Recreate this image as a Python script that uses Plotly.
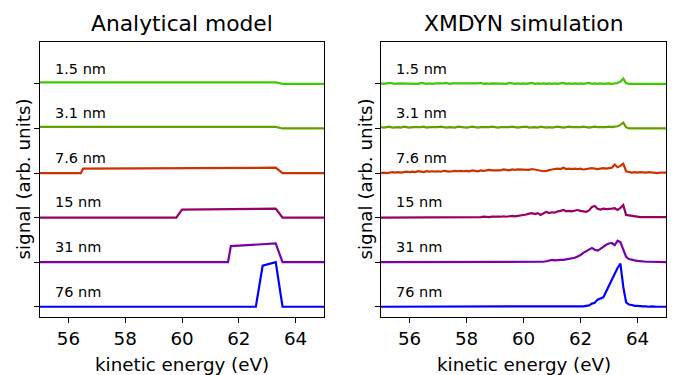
import plotly.graph_objects as go

W, H = 681, 375
PAGE_OFF = 8  # default page margin of the browser
FW, FH = W - PAGE_OFF, H - PAGE_OFF
FONT = "DejaVu Sans"

LABELS = ["76 nm", "31 nm", "15 nm", "7.6 nm", "3.1 nm", "1.5 nm"]
COLORS = ["#0000ff", "#7a00a8", "#990066", "#cc3300", "#66a000", "#40c800"]
OFFSETS = [0, 1, 2, 3, 4, 5]

# Analytical model: breakpoints (energy, signal)
ANA_X = [
    [55.0, 62.6, 62.84, 63.3, 63.54, 65.0],
    [55.0, 61.62, 61.72, 63.3, 63.54, 65.0],
    [55.0, 59.8, 60.0, 63.3, 63.54, 65.0],
    [55.0, 56.44, 56.52, 63.3, 63.54, 65.0],
    [55.0, 63.3, 63.54, 65.0],
    [55.0, 63.3, 63.54, 65.0],
]
ANA_Y = [
    [0, 0, 0.92, 1.0, 0, 0],
    [0, 0, 0.36, 0.42, 0, 0],
    [0, 0, 0.18, 0.2, 0, 0],
    [0, 0, 0.1, 0.12, 0, 0],
    [0.035, 0.035, 0, 0],
    [0.035, 0.035, 0, 0],
]

# XMDYN simulation: energy grid 55.0 .. 65.0 eV, step 0.1
SIM_E = [round(55 + 0.1 * i, 1) for i in range(101)]
SIM_76 = [0, 0, 0, 0.01, 0, 0, 0, 0, 0.01, 0,
          0, 0, 0.01, 0, 0, 0, 0, 0, 0, 0.01,
          0, 0, 0, 0, 0.01, 0, 0, 0, 0, 0,
          0, 0.01, 0, 0, 0, 0, 0, 0.01, 0, 0,
          0, 0, 0, 0, 0, 0.01, 0, 0, 0, 0,
          0, 0, 0, 0.01, 0, 0, 0, 0, 0, 0.01,
          0, 0, 0, 0, 0.01, 0, 0, 0.01, 0, 0.01,
          0.01, 0.01, 0.02, 0.03, 0.07, 0.09, 0.16, 0.18, 0.21, 0.34,
          0.48, 0.63, 0.76, 0.87, 0.97, 0.45, 0.1, 0.05, 0.04, 0.02,
          0.02, 0.01, 0.01, 0.01, 0, 0.01, 0, 0, 0, 0, 0]
SIM_31 = [0, 0, 0, 0, 0.01, 0, 0, 0, 0, 0,
          0, 0, 0, 0, 0, 0, 0, 0, 0, 0,
          0, 0, 0, 0, 0, 0, 0, 0, 0, 0,
          0, 0, 0, 0, 0, 0, 0, 0, 0, 0,
          0, 0, 0, 0, 0, 0, 0, 0, 0, 0,
          0, 0, 0, 0, 0, 0.01, 0, 0.01, 0.02, 0.03,
          0.05, 0.04, 0.05, 0.05, 0.05, 0.06, 0.08, 0.09, 0.1, 0.13,
          0.16, 0.21, 0.25, 0.29, 0.32, 0.28, 0.26, 0.3, 0.35, 0.39,
          0.42, 0.43, 0.38, 0.48, 0.45, 0.28, 0.12, 0.07, 0.05, 0.04,
          0.03, 0.02, 0.02, 0.01, 0.01, 0.01, 0.01, 0, 0, 0, 0]
SIM_15 = [0, 0, 0, 0, 0.01, 0, 0, 0, 0, 0,
          0, 0, 0.01, 0, 0, 0, 0, 0.01, 0, 0,
          0, 0.01, 0, 0, 0, 0.01, 0, 0, 0.01, 0,
          0.01, 0, 0.01, 0.01, 0, 0.01, 0.02, 0.01, 0.01, 0.02,
          0.02, 0.01, 0.02, 0.03, 0.02, 0.03, 0.04, 0.03, 0.04, 0.05,
          0.05, 0.07, 0.09, 0.1, 0.08, 0.1, 0.06, 0.09, 0.13, 0.1,
          0.12, 0.11, 0.14, 0.15, 0.17, 0.14, 0.15, 0.14, 0.16, 0.17,
          0.15, 0.14, 0.13, 0.16, 0.24, 0.26, 0.2, 0.18, 0.2, 0.19,
          0.19, 0.2, 0.21, 0.17, 0.22, 0.28, 0.06, 0.05, 0.04, 0.02,
          0.02, 0.01, 0.01, 0.01, 0.01, 0, 0.01, 0.01, 0, 0.01, 0.01]
SIM_7_6 = [0.0, 0.01, 0.0, 0.01, 0.02, 0.01, 0.02, 0.01, 0.02, 0.03,
           0.02, 0.03, 0.02, 0.04, 0.03, 0.02, 0.04, 0.03, 0.04, 0.03,
           0.04, 0.03, 0.05, 0.04, 0.03, 0.04, 0.05, 0.04, 0.05, 0.04,
           0.05, 0.04, 0.06, 0.05, 0.04, 0.06, 0.05, 0.06, 0.07, 0.06,
           0.06, 0.07, 0.06, 0.08, 0.07, 0.06, 0.08, 0.07, 0.08, 0.08,
           0.08, 0.07, 0.07, 0.09, 0.08, 0.07, 0.06, 0.04, 0.05, 0.07,
           0.08, 0.09, 0.1, 0.09, 0.12, 0.09, 0.1, 0.09, 0.1, 0.09,
           0.1, 0.08, 0.09, 0.1, 0.11, 0.1, 0.09, 0.1, 0.11, 0.1,
           0.11, 0.12, 0.19, 0.13, 0.16, 0.21, 0.04, 0.02, 0.01, 0.02,
           0.01, 0.02, 0.01, 0.01, 0.02, 0.01, 0.01, 0.0, 0.01, 0.01, 0.01]
SIM_3_1 = [0.03, 0.02, 0.03, 0.04, 0.02, 0.03, 0.03, 0.02, 0.04, 0.03,
           0.02, 0.03, 0.03, 0.02, 0.03, 0.04, 0.02, 0.03, 0.03, 0.02,
           0.03, 0.04, 0.03, 0.02, 0.03, 0.03, 0.02, 0.04, 0.03, 0.03,
           0.02, 0.03, 0.04, 0.03, 0.02, 0.03, 0.03, 0.02, 0.03, 0.04,
           0.03, 0.02, 0.03, 0.03, 0.02, 0.03, 0.04, 0.03, 0.02, 0.03,
           0.03, 0.04, 0.02, 0.03, 0.03, 0.02, 0.04, 0.03, 0.02, 0.03,
           0.02, 0.03, 0.04, 0.03, 0.02, 0.03, 0.04, 0.03, 0.03, 0.02,
           0.03, 0.04, 0.03, 0.02, 0.03, 0.04, 0.03, 0.03, 0.02, 0.03,
           0.04, 0.03, 0.04, 0.05, 0.08, 0.13, 0.03, 0.0, 0.0, 0.0,
           0, 0, 0, 0, 0, 0, 0, 0, 0, 0, 0]
SIM_1_5 = [0.01, 0.0, 0.01, 0.02, 0.01, 0.0, 0.01, 0.01, 0.0, 0.01,
           0.0, 0.01, 0.01, 0.0, 0.02, 0.01, 0.0, 0.01, 0.0, 0.01,
           0.01, 0.0, 0.01, 0.02, 0.0, 0.01, 0.01, 0.0, 0.01, 0.0,
           0.01, 0.0, 0.01, 0.0, 0.01, 0.02, 0.0, 0.01, 0.0, 0.01,
           0.01, 0.0, 0.01, 0.01, 0.0, 0.02, 0.01, 0.0, 0.01, 0.0,
           0.01, 0.0, 0.01, 0.02, 0.0, 0.01, 0.0, 0.01, 0.0, 0.01,
           0.0, 0.01, 0.0, 0.01, 0.02, 0.0, 0.01, 0.0, 0.01, 0.0,
           0.01, 0.0, 0.01, 0.02, 0.0, 0.01, 0.0, 0.01, 0.0, 0.01,
           0.01, 0.0, 0.01, 0.02, 0.05, 0.12, 0.02, 0.0, 0.0, 0.0,
           0, 0, 0, 0, 0, 0, 0, 0, 0, 0, 0]
SIM_Y = [SIM_76, SIM_31, SIM_15, SIM_7_6, SIM_3_1, SIM_1_5]

X_TICKS = [56, 58, 60, 62, 64]
X_RANGE = [55, 65]
Y_RANGE = [-0.23, 5.94]

PANEL_TITLES = ["Analytical model", "XMDYN simulation"]


def px_x(x):
    """screen pixel x -> paper fraction"""
    return (x - PAGE_OFF) / FW


def px_y(y):
    """screen pixel y (from top) -> paper fraction"""
    return 1 - (y - PAGE_OFF) / FH


LEFT_DOM = [px_x(40), px_x(324)]
RIGHT_DOM = [px_x(381), px_x(666)]
Y_DOM = [px_y(317), px_y(42)]

fig = go.Figure()

for k in range(6):
    fig.add_trace(go.Scatter(
        x=ANA_X[k], y=[v + OFFSETS[k] for v in ANA_Y[k]],
        mode="lines", line=dict(color=COLORS[k], width=2.2),
        xaxis="x", yaxis="y", showlegend=False, hoverinfo="skip"))
    fig.add_trace(go.Scatter(
        x=SIM_E, y=[v + OFFSETS[k] for v in SIM_Y[k]],
        mode="lines", line=dict(color=COLORS[k], width=2.2),
        xaxis="x2", yaxis="y2", showlegend=False, hoverinfo="skip"))

axis_common = dict(
    showline=True, mirror=True, linecolor="black", linewidth=1.2,
    showgrid=False, zeroline=False, ticks="outside", ticklen=5,
    tickwidth=1.2, tickcolor="black",
)

fig.update_layout(
    width=FW, height=FH,
    margin=dict(l=0, r=0, t=0, b=0),
    paper_bgcolor="white", plot_bgcolor="white",
    font=dict(family=FONT, color="black"),
    xaxis=dict(domain=LEFT_DOM, range=X_RANGE, tickvals=X_TICKS,
               tickfont=dict(size=18.3, family=FONT),
               anchor="y", **axis_common),
    yaxis=dict(domain=Y_DOM, range=Y_RANGE, tickvals=OFFSETS,
               showticklabels=False, anchor="x", **axis_common),
    xaxis2=dict(domain=RIGHT_DOM, range=X_RANGE, tickvals=X_TICKS,
                tickfont=dict(size=18.3, family=FONT),
                anchor="y2", **axis_common),
    yaxis2=dict(domain=Y_DOM, range=Y_RANGE, tickvals=OFFSETS,
                showticklabels=False, anchor="x2", **axis_common),
)

annotations = []
for ax_x, ax_y, dom, ttl, ylab_x in [("x", "y", LEFT_DOM, PANEL_TITLES[0], 22.5),
                                     ("x2", "y2", RIGHT_DOM, PANEL_TITLES[1], 364.5)]:
    cx = (dom[0] + dom[1]) / 2
    annotations.append(dict(text=ttl, xref="paper", yref="paper", x=cx, y=px_y(23),
                            xanchor="center", yanchor="middle", showarrow=False,
                            font=dict(size=21.8, family=FONT, color="black")))
    annotations.append(dict(text="kinetic energy (eV)", xref="paper", yref="paper",
                            x=cx, y=px_y(364), xanchor="center", yanchor="middle",
                            showarrow=False,
                            font=dict(size=18.3, family=FONT, color="black")))
    annotations.append(dict(text="signal (arb. units)", xref="paper", yref="paper",
                            x=px_x(ylab_x), y=px_y(179), xanchor="center", yanchor="middle",
                            textangle=-90, showarrow=False,
                            font=dict(size=18.3, family=FONT, color="black")))
    for k in range(6):
        annotations.append(dict(text=LABELS[k], xref=ax_x, yref=ax_y,
                                x=55.45, y=OFFSETS[k] + 0.34,
                                xanchor="left", yanchor="middle", showarrow=False,
                                font=dict(size=14.5, family=FONT, color="black")))

fig.update_layout(annotations=annotations)

fig.write_html("out.html")
